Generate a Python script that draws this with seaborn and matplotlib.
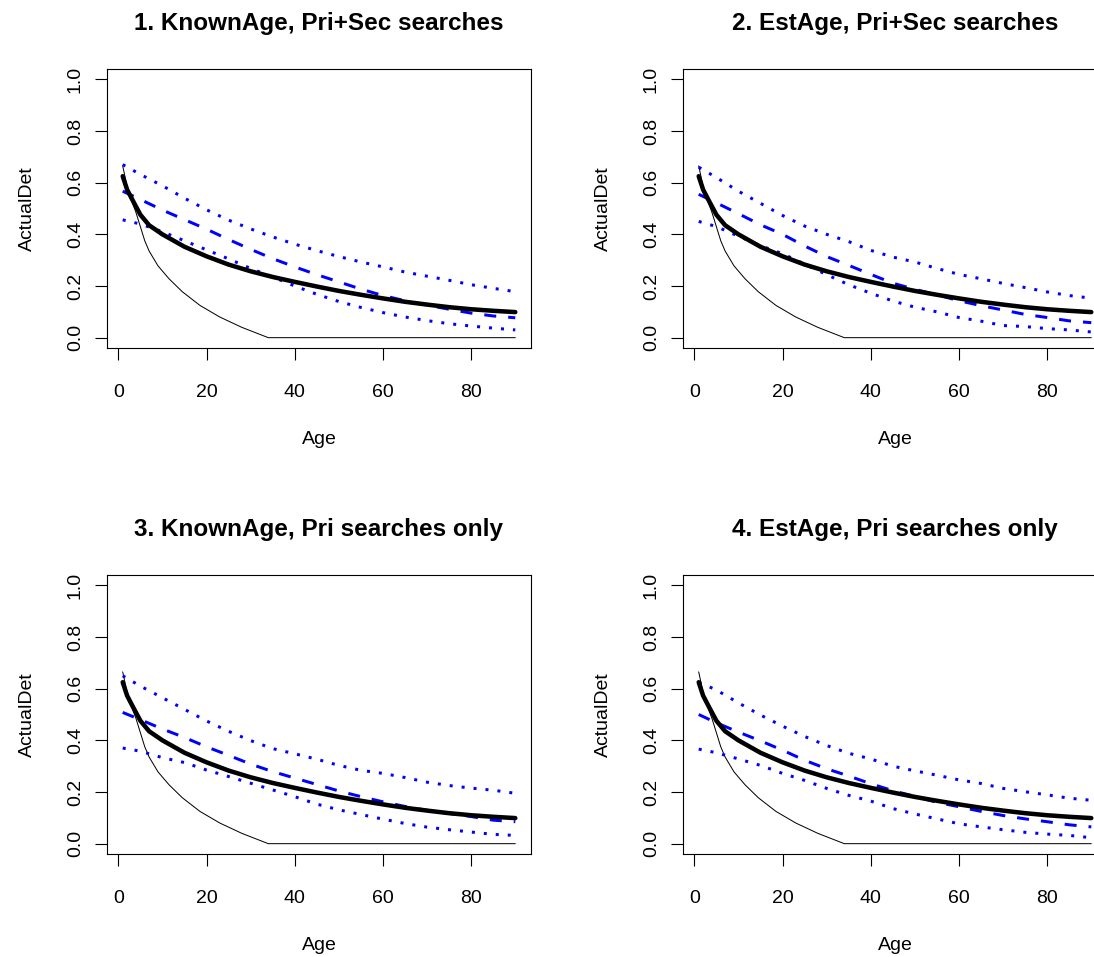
import matplotlib
matplotlib.use("Agg")
import matplotlib.pyplot as plt
import seaborn as sns
import pandas as pd

# ---------------- data ----------------
titles = ["1. KnownAge, Pri+Sec searches", "2. EstAge, Pri+Sec searches",
          "3. KnownAge, Pri searches only", "4. EstAge, Pri searches only"]

x_ticks = [0, 20, 40, 60, 80]
y_ticks = [0.0, 0.2, 0.4, 0.6, 0.8, 1.0]
y_tick_labels = ["0.0", "0.2", "0.4", "0.6", "0.8", "1.0"]

# thick black curve (actual detection) - same in every panel
ages_actual = [1, 2, 3, 5, 7, 10, 15, 20, 25, 30, 35, 40, 45, 50, 55, 60, 65, 70, 75, 80, 85, 90]
actual_det = [0.625, 0.573, 0.54, 0.476, 0.435, 0.40, 0.352, 0.315, 0.283, 0.257, 0.235, 0.216,
              0.198, 0.181, 0.166, 0.152, 0.139, 0.128, 0.118, 0.110, 0.104, 0.099]

# thin black curve - same in every panel
ages_thin = [1, 2, 3, 4, 5, 6, 7, 9, 11.5, 14.5, 18.5, 23, 28, 31, 34, 90]
thin_det = [0.665, 0.585, 0.53, 0.485, 0.43, 0.375, 0.335, 0.278, 0.228, 0.178,
            0.125, 0.08, 0.04, 0.02, 0.0, 0.0]

# blue estimate curves (upper dotted, dashed mean, lower dotted)
ages_est = [1, 5, 10, 15, 20, 25, 30, 35, 40, 45, 50, 55, 60, 65, 70, 75, 80, 85, 90]

upper_1 = [0.67, 0.632, 0.588, 0.54, 0.495, 0.455, 0.421, 0.39, 0.362, 0.337, 0.314,
           0.293, 0.274, 0.254, 0.238, 0.222, 0.205, 0.191, 0.178]
mid_1 = [0.567, 0.535, 0.494, 0.457, 0.42, 0.38, 0.342, 0.306, 0.274, 0.244, 0.216,
         0.188, 0.163, 0.143, 0.126, 0.11, 0.095, 0.084, 0.077]
lower_1 = [0.456, 0.44, 0.41, 0.375, 0.34, 0.305, 0.268, 0.235, 0.2, 0.168, 0.14,
           0.117, 0.097, 0.08, 0.066, 0.054, 0.045, 0.037, 0.03]

upper_2 = [0.66, 0.62, 0.567, 0.52, 0.473, 0.432, 0.40, 0.372, 0.338, 0.312, 0.293,
           0.268, 0.245, 0.228, 0.21, 0.194, 0.177, 0.163, 0.153]
mid_2 = [0.555, 0.522, 0.48, 0.437, 0.40, 0.355, 0.314, 0.28, 0.245, 0.211, 0.187,
         0.166, 0.143, 0.124, 0.107, 0.09, 0.078, 0.065, 0.058]
lower_2 = [0.45, 0.43, 0.393, 0.356, 0.325, 0.285, 0.244, 0.205, 0.172, 0.142, 0.118,
           0.10, 0.078, 0.064, 0.047, 0.043, 0.035, 0.03, 0.022]

upper_3 = [0.65, 0.61, 0.565, 0.52, 0.475, 0.435, 0.399, 0.368, 0.348, 0.327, 0.303,
           0.284, 0.272, 0.256, 0.238, 0.225, 0.215, 0.207, 0.195]
mid_3 = [0.508, 0.48, 0.444, 0.411, 0.375, 0.342, 0.308, 0.279, 0.254, 0.229, 0.204,
         0.182, 0.162, 0.144, 0.129, 0.117, 0.105, 0.091, 0.085]
lower_3 = [0.37, 0.358, 0.333, 0.314, 0.285, 0.26, 0.234, 0.208, 0.182, 0.153, 0.131,
           0.113, 0.095, 0.078, 0.064, 0.054, 0.045, 0.036, 0.032]

upper_4 = [0.625, 0.595, 0.545, 0.498, 0.455, 0.415, 0.38, 0.35, 0.328, 0.30, 0.282,
           0.265, 0.247, 0.233, 0.214, 0.201, 0.189, 0.176, 0.168]
mid_4 = [0.50, 0.468, 0.432, 0.398, 0.362, 0.323, 0.29, 0.262, 0.232, 0.205, 0.183,
         0.16, 0.143, 0.125, 0.109, 0.096, 0.085, 0.073, 0.065]
lower_4 = [0.366, 0.352, 0.328, 0.303, 0.272, 0.245, 0.214, 0.187, 0.165, 0.136, 0.115,
           0.096, 0.077, 0.065, 0.054, 0.044, 0.037, 0.032, 0.023]

uppers = [upper_1, upper_2, upper_3, upper_4]
mids = [mid_1, mid_2, mid_3, mid_4]
lowers = [lower_1, lower_2, lower_3, lower_4]

# ---------------- style ----------------
sns.set_theme(style="ticks")
plt.rcParams.update({
    "font.family": ["Liberation Sans", "DejaVu Sans"],
    "axes.edgecolor": "black",
    "axes.linewidth": 0.8,
    "xtick.color": "black",
    "ytick.color": "black",
    "text.color": "black",
    "axes.labelcolor": "black",
    "axes.titlecolor": "black",
    "lines.scale_dashes": False,
    "axes.facecolor": "white",
    "figure.facecolor": "white",
})

W, H = 1094, 957
fig = plt.figure(figsize=(W / 100, H / 100), dpi=100)

# axes boxes in pixel coords (left, top, right, bottom)
boxes = [(107, 69, 531, 348), (683, 69, 1107, 348),
         (107, 575, 531, 854), (683, 575, 1107, 854)]

px = 0.72  # points per pixel at 100 dpi
blue = "#0000FF"
dotted = (0, (3 * px, 9 * px))
dashed = (0, (12 * px, 12 * px))

for i, (l, t, r, b) in enumerate(boxes):
    ax = fig.add_axes([l / W, 1 - b / H, (r - l) / W, (b - t) / H])
    df_thin = pd.DataFrame({"Age": ages_thin, "ActualDet": thin_det})
    df_act = pd.DataFrame({"Age": ages_actual, "ActualDet": actual_det})
    df_up = pd.DataFrame({"Age": ages_est, "ActualDet": uppers[i]})
    df_mid = pd.DataFrame({"Age": ages_est, "ActualDet": mids[i]})
    df_lo = pd.DataFrame({"Age": ages_est, "ActualDet": lowers[i]})

    sns.lineplot(data=df_thin, x="Age", y="ActualDet", ax=ax, color="black",
                 linewidth=1 * px, estimator=None)
    sns.lineplot(data=df_up, x="Age", y="ActualDet", ax=ax, color=blue,
                 linewidth=3 * px, linestyle=dotted, estimator=None)
    sns.lineplot(data=df_mid, x="Age", y="ActualDet", ax=ax, color=blue,
                 linewidth=3 * px, linestyle=dashed, estimator=None)
    sns.lineplot(data=df_lo, x="Age", y="ActualDet", ax=ax, color=blue,
                 linewidth=3 * px, linestyle=dotted, estimator=None)
    sns.lineplot(data=df_act, x="Age", y="ActualDet", ax=ax, color="black",
                 linewidth=4.5 * px, estimator=None)

    ax.set_xlim(-2.56, 93.56)
    ax.set_ylim(-0.04, 1.04)
    ax.set_xticks(x_ticks)
    ax.set_xticklabels([str(v) for v in x_ticks])
    ax.set_yticks(y_ticks)
    ax.set_yticklabels(y_tick_labels, rotation=90, va="center")
    ax.tick_params(axis="both", direction="out", length=12 * px, width=0.8,
                   labelsize=14, colors="black")
    ax.tick_params(axis="x", pad=17.5)
    ax.tick_params(axis="y", pad=8)
    for s in ax.spines.values():
        s.set_visible(True)
        s.set_color("black")
        s.set_linewidth(0.8)

    ax.set_xlabel("Age", fontsize=14)
    ax.set_ylabel("ActualDet", fontsize=14)
    ax.xaxis.label.set_va("center")
    ax.yaxis.label.set_va("center")
    ax.xaxis.set_label_coords(0.5, -91 / (b - t))
    ax.yaxis.set_label_coords(-80 / (r - l), 0.5)
    ax.set_title(titles[i], fontsize=17.5, fontweight="bold", color="black",
                 y=1 + 39 / (b - t), pad=0, va="baseline")

fig.savefig("out.png", dpi=100)
